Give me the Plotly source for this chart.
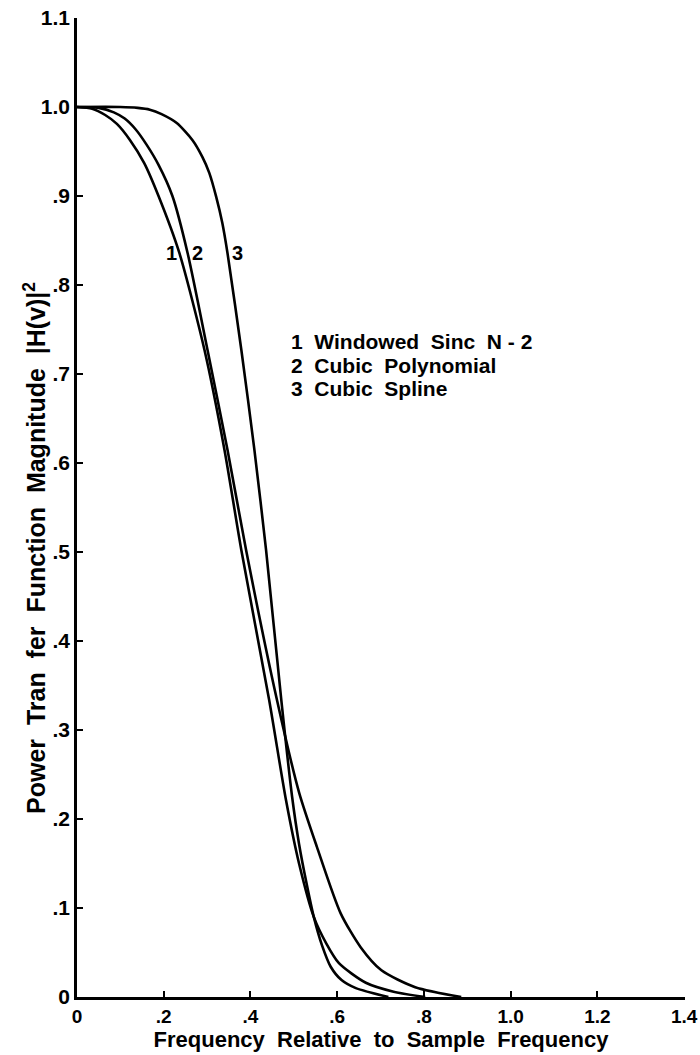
import plotly.graph_objects as go

# Curve 1: Windowed Sinc N-2
x1 = [0.0, 0.035, 0.065, 0.092, 0.122, 0.155, 0.188, 0.236, 0.294, 0.340, 0.379, 0.443, 0.482, 0.512, 0.546, 0.575, 0.604, 0.666, 0.73, 0.803]
y1 = [1.0, 0.998, 0.991, 0.981, 0.963, 0.937, 0.900, 0.836, 0.727, 0.615, 0.502, 0.334, 0.221, 0.150, 0.090, 0.060, 0.038, 0.016, 0.006, 0.0]

# Curve 2: Cubic Polynomial
x2 = [0.0, 0.05, 0.085, 0.110, 0.135, 0.160, 0.188, 0.220, 0.255, 0.301, 0.347, 0.390, 0.461, 0.512, 0.553, 0.608, 0.654, 0.702, 0.780, 0.886]
y2 = [1.0, 0.999, 0.994, 0.987, 0.975, 0.958, 0.935, 0.900, 0.836, 0.727, 0.615, 0.502, 0.334, 0.230, 0.169, 0.094, 0.056, 0.030, 0.011, 0.0]

# Curve 3: Cubic Spline
x3 = [0.0, 0.10, 0.140, 0.168, 0.195, 0.230, 0.266, 0.289, 0.305, 0.321, 0.335, 0.347, 0.379, 0.409, 0.436, 0.471, 0.496, 0.512, 0.530, 0.546, 0.565, 0.585, 0.610, 0.643, 0.718]
y3 = [1.0, 1.0, 0.999, 0.997, 0.992, 0.982, 0.963, 0.944, 0.926, 0.899, 0.870, 0.836, 0.727, 0.615, 0.502, 0.334, 0.225, 0.172, 0.126, 0.090, 0.058, 0.034, 0.019, 0.010, 0.0]

x_tickvals = [0, 0.2, 0.4, 0.6, 0.8, 1.0, 1.2, 1.4]
x_ticktext = ["0", ".2", ".4", ".6", ".8", "1.0", "1.2", "1.4"]
y_tickvals = [0, 0.1, 0.2, 0.3, 0.4, 0.5, 0.6, 0.7, 0.8, 0.9, 1.0, 1.1]
y_ticktext = ["0", ".1", ".2", ".3", ".4", ".5", ".6", ".7", ".8", ".9", "1.0", "1.1"]

curve_labels = ["1", "2", "3"]
label_x = [0.218, 0.278, 0.370]
label_y = [0.836, 0.836, 0.836]

legend_lines = ["1  Windowed  Sinc  N - 2", "2  Cubic  Polynomial", "3  Cubic  Spline"]
legend_y = [0.736, 0.710, 0.684]
legend_x = 0.489

x_title = "Frequency  Relative  to  Sample  Frequency"
y_title = "Power  Tran  fer  Function  Magnitude  |H(v)|<sup>2</sup>"

FONT = "Liberation Sans"

fig = go.Figure()
for xs, ys in [(x1, y1), (x2, y2), (x3, y3)]:
    fig.add_trace(go.Scatter(x=xs, y=ys, mode="lines",
                             line=dict(color="black", width=2.6, shape="spline", smoothing=0.7),
                             showlegend=False, hoverinfo="skip"))

for t, lx, ly in zip(curve_labels, label_x, label_y):
    fig.add_annotation(x=lx, y=ly, text=f"<b>{t}</b>", showarrow=False,
                       font=dict(family=FONT, size=20, color="black"),
                       xanchor="center", yanchor="middle")

for t, ly in zip(legend_lines, legend_y):
    fig.add_annotation(x=legend_x, y=ly, text=f"<b>{t}</b>", showarrow=False,
                       font=dict(family=FONT, size=21, color="black"),
                       xanchor="left", yanchor="middle")

# y-axis title (rotated annotation placed to match the reference)
fig.add_annotation(xref="paper", yref="y", x=-0.07, y=0.505, text=f"<b>{y_title}</b>",
                   textangle=-90, showarrow=False, xanchor="center", yanchor="middle",
                   font=dict(family=FONT, size=25, color="black"))

fig.update_layout(
    width=700, height=1055,
    margin=dict(l=77, r=15, t=18, b=58),
    paper_bgcolor="white", plot_bgcolor="white",
    font=dict(family=FONT, color="black"),
    xaxis=dict(range=[0, 1.402], tickvals=x_tickvals, automargin=False,
               ticktext=[f"<b>{t}</b>" for t in x_ticktext],
               ticklabeloverflow="allow",
               showgrid=False, zeroline=False, showline=True, linecolor="black", linewidth=2.5,
               ticks="inside", ticklen=6, tickwidth=2, tickcolor="black",
               tickfont=dict(family=FONT, size=19, color="black"),
               title=dict(text=f"<b>{x_title}</b>",
                          font=dict(family=FONT, size=22, color="black"), standoff=2)),
    yaxis=dict(range=[0, 1.1], tickvals=y_tickvals, automargin=False,
               ticktext=[f"<b>{t}</b>" for t in y_ticktext],
               ticklabeloverflow="allow",
               showgrid=False, zeroline=False, showline=True, linecolor="black", linewidth=2.5,
               ticks="inside", ticklen=6, tickwidth=2, tickcolor="black",
               tickfont=dict(family=FONT, size=21, color="black")),
)

fig.write_html("out.html")
